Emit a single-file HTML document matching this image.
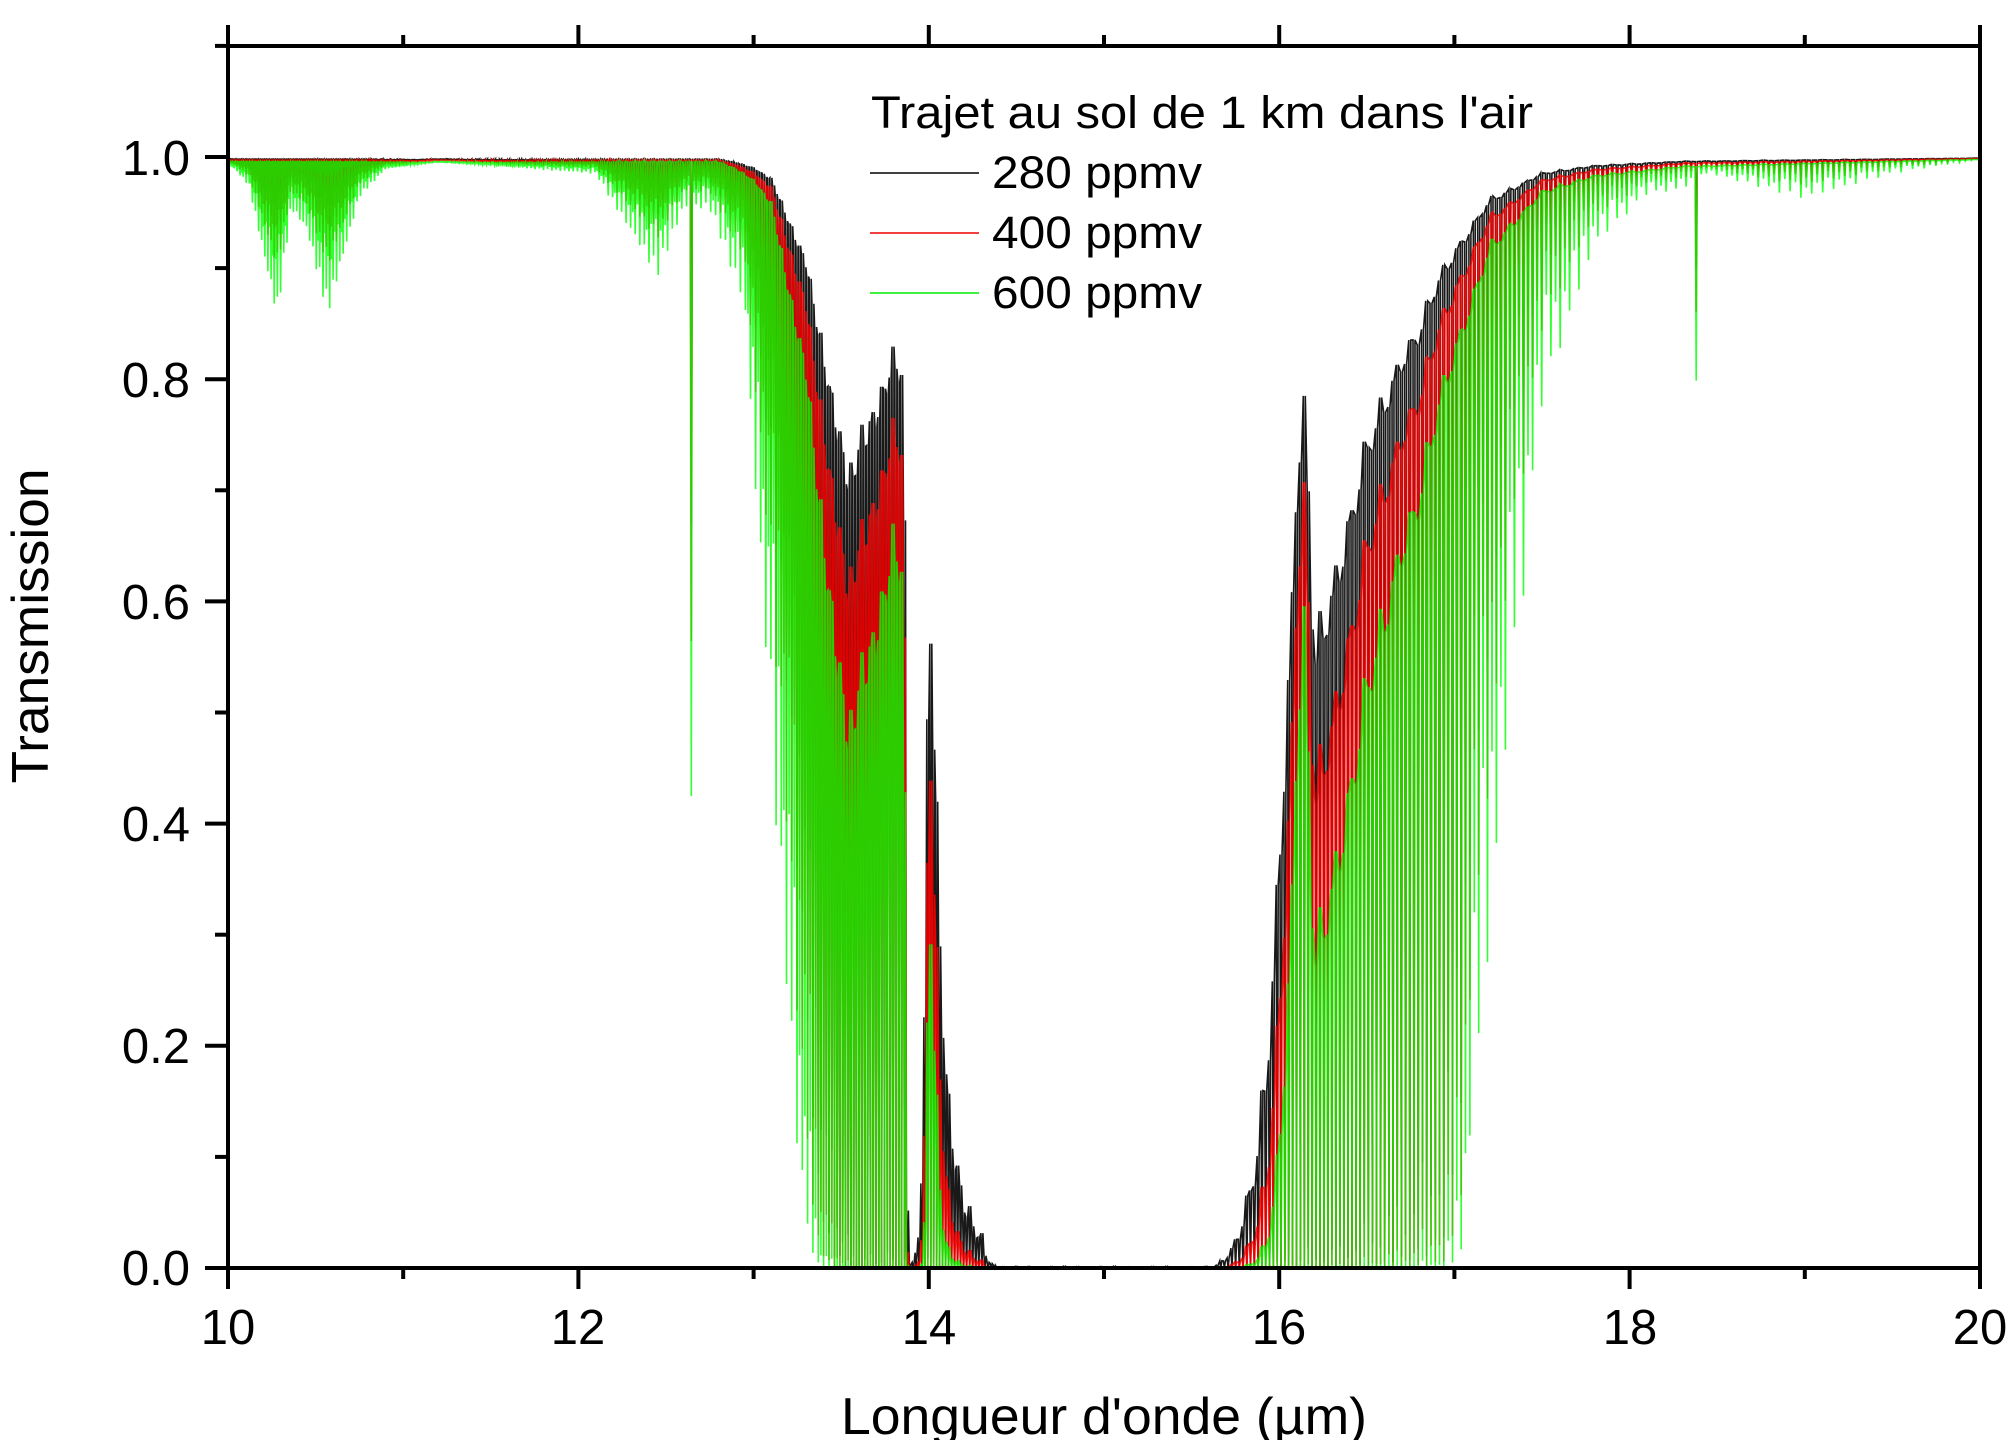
<!DOCTYPE html>
<html><head><meta charset="utf-8">
<style>
html,body{margin:0;padding:0;background:#fff;}
svg{display:block;}
text{font-family:"Liberation Sans",Arial,sans-serif;fill:#000;}
</style></head>
<body>
<svg id="c" width="2012" height="1440" viewBox="0 0 2012 1440" xmlns="http://www.w3.org/2000/svg">
<g id="data"></g>
<g id="axes" stroke="#000" stroke-width="4" fill="none"></g>
<g font-size="49">
<text x="190" y="175" text-anchor="end">1.0</text>
<text x="190" y="397" text-anchor="end">0.8</text>
<text x="190" y="619" text-anchor="end">0.6</text>
<text x="190" y="841" text-anchor="end">0.4</text>
<text x="190" y="1063" text-anchor="end">0.2</text>
<text x="190" y="1285" text-anchor="end">0.0</text>
<text x="228" y="1344" text-anchor="middle">10</text>
<text x="578" y="1344" text-anchor="middle">12</text>
<text x="929" y="1344" text-anchor="middle">14</text>
<text x="1279" y="1344" text-anchor="middle">16</text>
<text x="1630" y="1344" text-anchor="middle">18</text>
<text x="1980" y="1344" text-anchor="middle">20</text>
</g>
<text x="1104" y="1434" font-size="52" text-anchor="middle" textLength="526" lengthAdjust="spacingAndGlyphs">Longueur d'onde (µm)</text>
<text transform="translate(48,626) rotate(-90)" font-size="52" text-anchor="middle" textLength="315" lengthAdjust="spacingAndGlyphs">Transmission</text>
<text x="871" y="128" font-size="45" textLength="662" lengthAdjust="spacingAndGlyphs">Trajet au sol de 1 km dans l'air</text>
<line x1="870" y1="173" x2="979" y2="173" stroke="#000" stroke-width="1.5"/>
<line x1="870" y1="233" x2="979" y2="233" stroke="#e00" stroke-width="1.5"/>
<line x1="870" y1="293" x2="979" y2="293" stroke="#0e0" stroke-width="1.5"/>
<text x="992" y="188" font-size="45" textLength="210" lengthAdjust="spacingAndGlyphs">280 ppmv</text>
<text x="992" y="248" font-size="45" textLength="210" lengthAdjust="spacingAndGlyphs">400 ppmv</text>
<text x="992" y="308" font-size="45" textLength="210" lengthAdjust="spacingAndGlyphs">600 ppmv</text>
</svg>
<script>
(function(){
var X=function(l){return 228+(l-10)*175.2;};
var Y=function(t){return 1268-t*1111;};
var ax=document.getElementById('axes');
var s='';
s+='<path d="M228,46 V1268 H1980 V46 M228,46 H1980"/>';
for(var i=0;i<=10;i++){var x=X(10+i);var L=(i%2==0)?21:11;
 s+='<line x1="'+x+'" y1="1268" x2="'+x+'" y2="'+(1268+L)+'"/>';
 s+='<line x1="'+x+'" y1="46" x2="'+x+'" y2="'+(46-L)+'"/>';}
for(var j=0;j<=11;j++){var y=Y(j/10);var L2=(j%2==0)?23:13;
 s+='<line x1="228" y1="'+y+'" x2="'+(228-L2)+'" y2="'+y+'"/>';}
ax.innerHTML=s;
function interp(tab,l){
 if(l<=tab[0][0])return tab[0][1];
 for(var i=1;i<tab.length;i++){if(l<=tab[i][0]){var a=tab[i-1],b=tab[i];return a[1]+(b[1]-a[1])*(l-a[0])/(b[0]-a[0]);}}
 return tab[tab.length-1][1];}
var tb=[[10,0],[10.12,0.01],[10.28,0.07],[10.36,0.02],[10.45,0.03],[10.57,0.068],[10.75,0.015],[10.9,0.003],[11.2,0],[12.1,0.005],[12.45,0.05],[12.6,0.02],[12.75,0.02],[12.95,0.06],[13.1,0.3],[13.2,0.6],[13.3,1.3],[13.4,3],[13.5,5],[13.6,8],[16.0,8],[16.9,4],[17.0,2.5],[17.1,0.8],[17.3,0.3],[17.5,0.1],[17.8,0.03],[18.1,0.01],[18.3,0.01],[18.45,0.003],[19.0,0.015],[19.5,0.005],[20,0]];
var tt=[[10,0.002],[12.8,0.002],[12.9,0.005],[13.0,0.01],[13.1,0.02],[13.2,0.06],[13.3,0.1],[13.4,0.2],[13.5,0.3],[13.55,0.35],[13.6,0.3],[13.7,0.26],[13.8,0.2],[13.86,0.22],[13.9,6],[13.95,3],[14.0,0.4],[14.05,1.0],[14.1,1.8],[14.2,2.8],[14.3,3.6],[14.4,7],[15.6,7],[15.7,4.5],[15.8,3],[15.9,2],[16.0,1.0],[16.1,0.35],[16.15,0.24],[16.2,0.6],[16.3,0.5],[16.5,0.3],[16.7,0.2],[16.8,0.17],[16.9,0.12],[17.0,0.09],[17.2,0.04],[17.5,0.015],[17.8,0.008],[18.3,0.004],[20,0.001]];
var series=[[1,'#000',0.9],[1.43,'#f00',0.85],[2.14,'#0f0',0.8]];
var g=document.getElementById('data');var out='';
series.forEach(function(sr){
 var c=sr[0];var d='';var l=10;var k=0;
 d+='M'+X(10).toFixed(1)+','+Y(Math.exp(-c*interp(tt,10))).toFixed(1);
 while(l<20){
  var sp=l*l*0.000156;
  var jit=(k%2==0)?(0.95+0.08*Math.sin(k*1.7)):(0.6+0.1*Math.sin(k*0.9));
  var tv=interp(tt,l)*(0.92+0.16*Math.abs(Math.sin(k*2.3)));
  var top=Math.exp(-c*tv);
  var depth=interp(tb,l)*jit;
  var bot=Math.exp(-c*(tv+depth));
  if(Math.abs(l-12.65)<sp/3) bot=Math.exp(-c*0.4);
  if(Math.abs(l-18.37)<sp/3) bot=Math.exp(-c*0.105);
  var x=X(l);
  d+='L'+(x-1).toFixed(1)+','+Y(top).toFixed(1)+'L'+x.toFixed(1)+','+Y(bot).toFixed(1)+'L'+(x+1).toFixed(1)+','+Y(top).toFixed(1);
  l+=sp*0.55;k++;
 }
 out+='<path d="'+d+'" fill="none" stroke="'+sr[1]+'" stroke-width="1.6" stroke-opacity="'+sr[2]+'"/>';
});
g.innerHTML=out;
})();
</script>
</body></html>
